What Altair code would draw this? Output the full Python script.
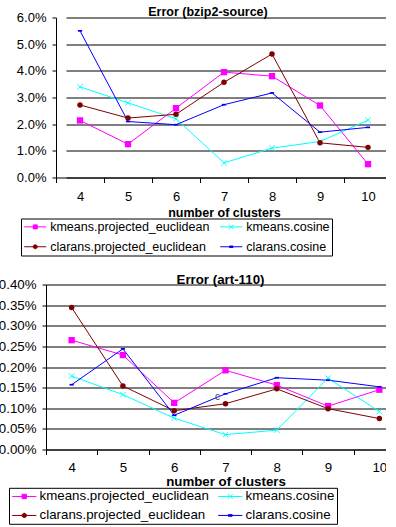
import altair as alt
import pandas as pd

FONT = "Liberation Sans"

clusters = [4, 5, 6, 7, 8, 9, 10]
series_names = [
    "kmeans.projected_euclidean",
    "kmeans.cosine",
    "clarans.projected_euclidean",
    "clarans.cosine",
]
series_colors = ["#FF00FF", "#00FFFF", "#800000", "#0000FF"]

# Error (bzip2-source), in percent
bzip_kmeans_pe = [2.14, 1.25, 2.60, 3.95, 3.80, 2.70, 0.50]
bzip_kmeans_cos = [3.40, 2.80, 2.20, 0.55, 1.10, 1.35, 2.15]
bzip_clarans_pe = [2.72, 2.23, 2.37, 3.57, 4.63, 1.30, 1.13]
bzip_clarans_cos = [5.50, 2.10, 1.98, 2.73, 3.17, 1.70, 1.88]

# Error (art-110), in percent
art_kmeans_pe = [0.265, 0.229, 0.113, 0.192, 0.156, 0.105, 0.145]
art_kmeans_cos = [0.178, 0.133, 0.076, 0.036, 0.047, 0.173, 0.092]
art_clarans_pe = [0.344, 0.154, 0.094, 0.111, 0.147, 0.099, 0.075]
art_clarans_cos = [0.157, 0.244, 0.083, 0.135, 0.174, 0.168, 0.152]

# stray glyph visible in the art-110 panel
stray_text = ["c"]
stray_cluster = [7]
stray_value = [0.127]

top_ticks = [0, 1, 2, 3, 4, 5, 6]
bottom_ticks = [0, 0.05, 0.10, 0.15, 0.20, 0.25, 0.30, 0.35, 0.40]

marker_shapes = ["square", "M-1,-1L1,1M-1,1L1,-1", "circle", "M-1,-0.4H1V0.4H-1Z"]
marker_sizes = [40, 30, 30, 18]
marker_filled = [True, False, True, True]

legend_paths = [
    "M-1,0H3.4M0.8,-0.4H1.6V0.4H0.8Z",
    "M-1,0H3.4M0.75,-0.45L1.65,0.45M0.75,0.45L1.65,-0.45",
    "M-1,0H3.4M1.6,0A0.4,0.4,0,1,1,0.8,0A0.4,0.4,0,1,1,1.6,0Z",
    "M-1,0H3.4M0.85,-0.15H1.55V0.15H0.85Z",
]


def long_table(cols):
    rows = []
    for name, vals in zip(series_names, cols):
        for c, v in zip(clusters, vals):
            rows.append({"cluster": c, "series": name, "value": v / 100.0})
    return pd.DataFrame(rows)


def panel(df, title, title_dx, title_off, title_size, width, height, x_range,
          y_fmt, y_ticks, y_offset, grid_dash, fsize, lsize, leg_x, leg_y,
          leg_sym, leg_lab_off, leg_rowpad, leg_colpad, leg_pad, x_lab_pad,
          x_title_pad, extra=None):
    xscale = dict(paddingInner=0, paddingOuter=0)
    if x_range is not None:
        xscale["range"] = x_range
    x_enc = alt.X(
        "cluster:O",
        scale=alt.Scale(**xscale),
        axis=alt.Axis(
            title="number of clusters", labelAngle=0, tickBand="extent",
            tickSize=5, labelPadding=x_lab_pad, titlePadding=x_title_pad,
            titleFont=FONT, titleFontSize=title_size, titleFontWeight="bold",
            titleColor="black", labelFont=FONT, labelFontSize=fsize,
            labelColor="black", domainColor="black", tickColor="black",
            grid=False,
        ),
    )
    yvals = [t / 100.0 for t in y_ticks]
    yaxis = dict(
        title=None, format=y_fmt, values=yvals, tickSize=4, labelPadding=6,
        offset=y_offset, labelFont=FONT, labelFontSize=fsize, labelColor="black",
        domainColor="black", tickColor="black", grid=True, gridColor="black",
        gridWidth=1, gridOpacity=1,
    )
    if grid_dash is not None:
        yaxis["gridDash"] = grid_dash
    y_enc = alt.Y(
        "value:Q",
        scale=alt.Scale(domain=[0, yvals[-1]], nice=False, zero=True),
        axis=alt.Axis(**yaxis),
    )
    base = alt.Chart(df)
    layers = []
    for name, col in zip(series_names, series_colors):
        layers.append(
            base.transform_filter(alt.datum.series == name)
            .mark_line(strokeWidth=1, color=col)
            .encode(x=x_enc, y=y_enc)
        )
    for name, col, shp, sz, fl in zip(series_names, series_colors, marker_shapes,
                                      marker_sizes, marker_filled):
        layers.append(
            base.transform_filter(alt.datum.series == name)
            .mark_point(shape=shp, size=sz, filled=fl, color=col, strokeWidth=1,
                        opacity=1)
            .encode(x=x_enc, y=y_enc)
        )
    leg = alt.Legend(
        title=None, orient="none", legendX=leg_x, legendY=leg_y, columns=2,
        direction="horizontal", gridAlign="all", columnPadding=leg_colpad,
        rowPadding=leg_rowpad, padding=leg_pad, strokeColor="black",
        fillColor="white", labelFont=FONT, labelFontSize=lsize,
        labelColor="black", labelOffset=leg_lab_off, labelLimit=400,
        symbolSize=leg_sym, symbolStrokeWidth=1, symbolOpacity=1,
    )
    legend_layer = base.mark_point(
        filled=True, opacity=0, strokeWidth=1
    ).encode(
        x=x_enc, y=y_enc,
        fill=alt.Fill("series:N",
                      scale=alt.Scale(domain=series_names, range=series_colors),
                      legend=leg),
        stroke=alt.Stroke("series:N",
                          scale=alt.Scale(domain=series_names, range=series_colors),
                          legend=leg),
        shape=alt.Shape("series:N",
                        scale=alt.Scale(domain=series_names, range=legend_paths),
                        legend=leg),
    )
    layers.append(legend_layer)
    if extra is not None:
        layers.append(extra(x_enc, y_enc))
    return alt.layer(*layers).properties(
        width=width, height=height,
        title=alt.TitleParams(
            text=title, font=FONT, fontSize=title_size, fontWeight="bold",
            anchor="middle", frame="group", dx=title_dx, offset=title_off,
            baseline="alphabetic", color="black",
        ),
    )


top_df = long_table([bzip_kmeans_pe, bzip_kmeans_cos, bzip_clarans_pe, bzip_clarans_cos])
bot_df = long_table([art_kmeans_pe, art_kmeans_cos, art_clarans_pe, art_clarans_cos])

stray_df = pd.DataFrame({"cluster": stray_cluster,
                         "value": [v / 100.0 for v in stray_value],
                         "t": stray_text})


def stray_layer(x_enc, y_enc):
    return alt.Chart(stray_df).mark_text(
        font=FONT, fontSize=10, color="#444", dx=-8
    ).encode(x=x_enc, y=y_enc, text="t:N")


top = panel(
    top_df, "Error (bzip2-source)", -11, -16.5, 12.5, 346, 160, [10, 346], ".1%",
    top_ticks, -10, [0, 10, 336, 10], 13, 12.5, -25, 201, 100, 14.7, 7, 8, 2,
    8, 3,
)
bottom = panel(
    bot_df, "Error (art-110)", -5, -19.5, 13.3, 359, 165, None, ".2%",
    bottom_ticks, 0, None, 13.3, 13.3, -37, 203.3, 121, 15.3, 5, 7, 2,
    6, 1, extra=stray_layer,
)

chart = alt.vconcat(
    top, bottom, spacing=107, bounds="flush",
    padding={"left": -2, "top": 5.5, "right": -20, "bottom": 0},
).resolve_scale(
    color="independent", fill="independent", stroke="independent",
    shape="independent", x="independent", y="independent",
).configure(font=FONT).configure_view(stroke=None)

chart.save("out.html", embed_options={"renderer": "svg", "actions": False})
